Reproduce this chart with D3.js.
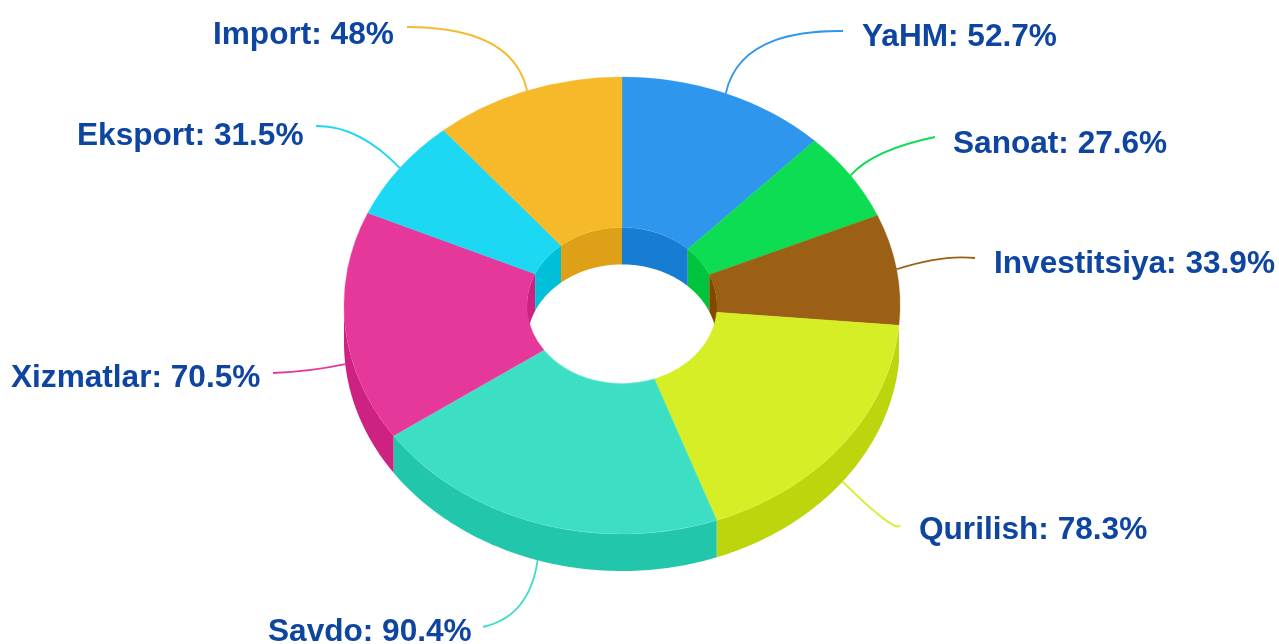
<!DOCTYPE html>
<html><head><meta charset="utf-8">
<script src="https://cdn.jsdelivr.net/npm/d3@7/dist/d3.min.js"></script>
<style>html,body{margin:0;padding:0;background:#fff;overflow:hidden}svg{display:block}</style>
</head><body><div id="chart"></div>
<script>
const categories = ["YaHM","Sanoat","Investitsiya","Qurilish","Savdo","Xizmatlar","Eksport","Import"];
const values = [52.7,27.6,33.9,78.3,90.4,70.5,31.5,48];
const colors = ["#2f96ec","#0edd53","#9c5f12","#d6ee26","#3ddfc4","#e6399b","#1cd8f2","#f6b92b"];
const labelX = [862,953,994,919,268,11,77,213];
const labelY = [46,153,273,539,641,387,145,44];
const connectorEndX = [843,935,975,900,483,273,316,407];
const connectorEndY = [31,137,258,525,627,373,126,27];
const connectorMidX = [762,883,939,884,520,310,358,490];
const connectorMidY = [46,153,259,519,605,370,136,43];

const W=1279,H=644,cx=622,cy=305.5,rx=278,ry=228.5,irx=95,depth=37,squash=ry/rx;
const svg=d3.select("#chart").append("svg").attr("width",W).attr("height",H).attr("viewBox",[0,0,W,H]);
const defs=svg.append("defs");
defs.append("filter").attr("id","soft").append("feGaussianBlur").attr("stdDeviation",0.45);
const root=svg.append("g").attr("filter","url(#soft)");

const arcs=d3.pie().sort(null).value(d=>d)(values);
const px=(r,a)=>cx+r*Math.sin(a);
const py=(r,a,dz=0)=>cy-r*squash*Math.cos(a)+dz;
const darker=c=>{const k=d3.rgb(c);return d3.rgb(k.r-25,k.g-25,k.b-25).formatHex();};
const line=d3.line();
function wall(r,a0,a1){
  if(a1<=a0) return null;
  const n=Math.max(2,Math.ceil((a1-a0)*60));
  const t=d3.range(n+1).map(i=>a0+(a1-a0)*i/n);
  const top=t.map(a=>[px(r,a),py(r,a)]);
  const bot=t.slice().reverse().map(a=>[px(r,a),py(r,a,depth)]);
  return line(top.concat(bot))+"Z";
}
const PI=Math.PI;
// front outer walls, visible between 90deg and 270deg (slivers at the very edge are not seen)
arcs.forEach((d,i)=>{
  const a0=Math.max(d.startAngle,PI/2),a1=Math.min(d.endAngle,1.5*PI);
  if(a1-a0<0.1) return;
  root.append("path").attr("d",wall(rx,a0,a1)).attr("fill",darker(colors[i]));
});
// back inner walls, visible between -90deg and 90deg
arcs.forEach((d,i)=>{
  [[d.startAngle,Math.min(d.endAngle,PI/2)],[Math.max(d.startAngle,1.5*PI),d.endAngle]].forEach(([a,b])=>{
    const p=wall(irx,a,b);
    if(p) root.append("path").attr("d",p).attr("fill",darker(colors[i]));
  });
});
// top face
const arc=d3.arc().innerRadius(irx).outerRadius(rx);
root.selectAll("path.top").data(arcs).join("path").attr("class","top")
  .attr("transform",`translate(${cx},${cy}) scale(1,${squash})`)
  .attr("d",arc).attr("fill",(d,i)=>colors[i]).attr("stroke",(d,i)=>colors[i]).attr("stroke-width",.4);
// connectors: a smooth curve from the slice edge, through a read mid point, to the label
arcs.forEach((d,i)=>{
  const a=(d.startAngle+d.endAngle)/2;
  const front=Math.cos(a)<0;
  const sx=px(rx,a),sy=py(rx,a,front?depth:0);
  const ex=connectorEndX[i],ey=connectorEndY[i];
  const p=d3.path();
  p.moveTo(sx,sy);
  p.quadraticCurveTo(2*connectorMidX[i]-(sx+ex)/2,2*connectorMidY[i]-(sy+ey)/2,ex,ey);
  root.append("path").attr("d",p.toString())
    .attr("fill","none").attr("stroke",colors[i]).attr("stroke-width",1.8);
});
// labels
root.selectAll("text").data(categories).join("text")
  .attr("x",(d,i)=>labelX[i]).attr("y",(d,i)=>labelY[i])
  .attr("font-family","'Liberation Sans',Arial,sans-serif").attr("font-weight",700).attr("font-size",31.6)
  .attr("fill","#0e45a0")
  .text((d,i)=>`${d}: ${values[i]}%`);
</script></body></html>
